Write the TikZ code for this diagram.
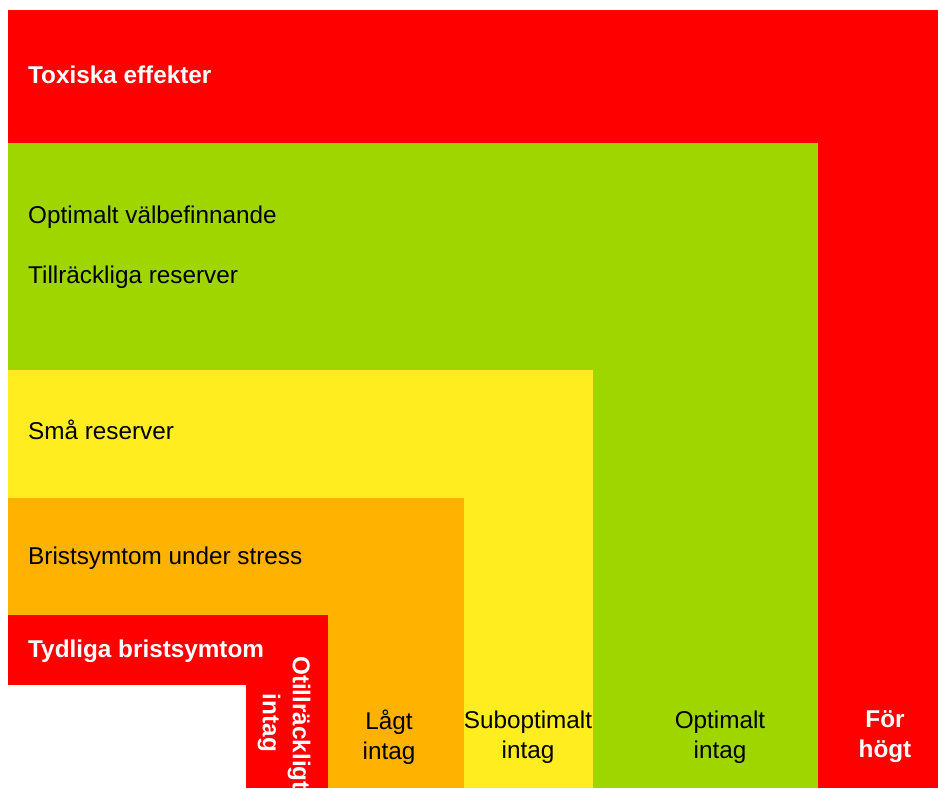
\documentclass[tikz,border=0pt]{standalone}
\usepackage{fontspec}
\setmainfont{Liberation Sans}
\usetikzlibrary{positioning}
\definecolor{toxred}{RGB}{254,0,0}
\definecolor{optgreen}{RGB}{160,214,0}
\definecolor{subyellow}{RGB}{255,237,32}
\definecolor{loworange}{RGB}{255,178,0}

\begin{document}
\begin{tikzpicture}[x=1pt, y=-1pt,
	lbl/.style={anchor=west, inner sep=0pt, font=\fontsize{24.3}{29}\selectfont},
	wlbl/.style={lbl, text=white, font=\fontsize{24.3}{29}\selectfont\bfseries},
	intag/.style={align=center, inner sep=0pt, font=\fontsize{24.3}{30}\selectfont}]
				\useasboundingbox (0,0) rectangle (938,788);
				% nested zones, outermost first
				\fill [toxred] (8,10) rectangle (938,788);
				\fill [optgreen] (8,143) rectangle (818,788);
				\fill [subyellow] (8,370) rectangle (593,788);
				\fill [loworange] (8,498) rectangle (464,788);
				\fill [toxred] (8,615) rectangle (328,788);
				\fill [white] (0,685) rectangle (246,788);
				% row labels
				\node [wlbl] (toxisk) at (28,75) {Toxiska effekter};
				\node [lbl] (optimalt) at (28,217) {Optimalt välbefinnande};
				\node [lbl] (tillrackl) at (28,277) {Tillräckliga reserver};
				\node [lbl] (sma) at (28,430) {Små reserver};
				\node [lbl] (stress) at (28,558) {Bristsymtom under stress};
				\node [wlbl] (tydliga) at (28,651) {Tydliga bristsymtom};
				% column labels
				\node [intag, text=white, font=\fontsize{24.3}{30}\selectfont\bfseries, rotate=-90] (otillr) at (284,723) {Otillräckligt\\intag};
				\node [intag] (lagt) at (389,737) {Lågt\\intag};
				\node [intag] (subopt) at (528,737) {Suboptimalt\\intag};
				\node [intag] (optintag) at (720,737) {Optimalt\\intag};
				\node [intag, text=white, font=\fontsize{24.3}{30}\selectfont\bfseries] (hogt) at (885,737) {För\\högt};
			\end{tikzpicture}
\end{document}
